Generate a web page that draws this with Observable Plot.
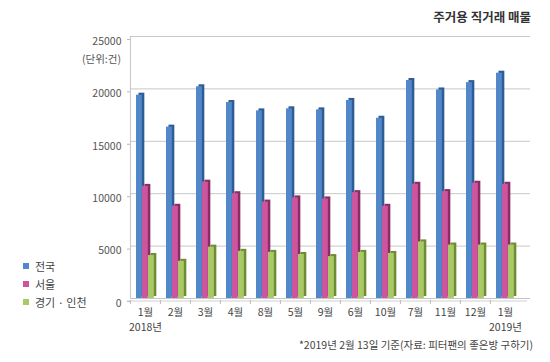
<!DOCTYPE html>
<html>
<head>
<meta charset="utf-8">
<script src="https://cdn.jsdelivr.net/npm/d3@7"></script>
<script src="https://cdn.jsdelivr.net/npm/@observablehq/plot@0.6"></script>
<style>
  body { margin: 0; background: #fff; font-family: "Noto Sans CJK KR", "Noto Sans", sans-serif; }
  #wrap { position: relative; width: 550px; height: 362px; overflow: hidden; }
  #title { position: absolute; right: 19px; top: 7px; font-size: 12.5px; font-weight: 600; color: #333; white-space: nowrap; }
  #unit { position: absolute; right: 429px; top: 51px; font-size: 10.5px; color: #555; white-space: nowrap; }
  #note { position: absolute; right: 17px; top: 337px; font-size: 10.5px; color: #444; white-space: nowrap; }
  #legend { position: absolute; left: 23px; top: 257px; font-size: 11px; color: #444; }
  #legend .row { display: flex; align-items: center; height: 18px; }
  #legend .sw { width: 6px; height: 6px; margin-right: 6px; }
  #chart { position: absolute; left: 0; top: 0; }
</style>
</head>
<body>
<div id="wrap">
  <div id="chart"></div>
  <div id="title"></div>
  <div id="unit"></div>
  <div id="legend"></div>
  <div id="note"></div>
</div>
<script>
// ---- data ----
const titleText = "주거용 직거래 매물";
const unitText = "(단위:건)";
const noteText = "*2019년 2월 13일 기준(자료: 피터팬의 좋은방 구하기)";
const months = ["1월", "2월", "3월", "4월", "8월", "5월", "9월", "6월", "10월", "7월", "11월", "12월", "1월"];
const years  = ["2018년", "", "", "", "", "", "", "", "", "", "", "", "2019년"];
const seriesNames = ["전국", "서울", "경기 · 인천"];
const national = [19400, 16350, 20200, 18700, 17900, 18100, 18000, 18900, 17200, 20800, 19900, 20600, 21500];
const seoul    = [10700,  8800, 11100, 10000,  9200,  9600,  9500, 10100,  8800, 10900, 10200, 11000, 10900];
const gyeonggi = [ 4100,  3550,  4900,  4500,  4400,  4200,  4000,  4400,  4300,  5400,  5100,  5100,  5100];
const yTicks = [0, 5000, 10000, 15000, 20000, 25000];

// ---- styles ----
const colors = ["#5288c9", "#cc559e", "#a8c965"];
const darks  = ["#2f5c94", "#8a2d66", "#6e8c33"];

const W = 550, H = 362, ML = 130, MR = 20, MT = 36, MB = 64;
const n = months.length;
const pOuter = 0.13;
const bw = (W - ML - MR) / (n + 2 * pOuter);
const barW = 6, lead = 6;

const valuesBySeries = [national, seoul, gyeonggi];
const rows = [];
valuesBySeries.forEach((vals, j) => vals.forEach((v, i) => rows.push({ i, j, s: seriesNames[j], v })));

const marks = [
  Plot.ruleY(yTicks.slice(1), { stroke: "#c8c8c8" }),
  Plot.ruleY([0], { stroke: "#c4c4c4" }),
  Plot.ruleY([0], { stroke: "#cfcfcf", dy: 2.5, dx: -3 }),
  Plot.ruleX([0], { x: d => d, y1: 0, y2: 25000, dx: -bw / 2, stroke: "#c4c4c4" }),
];
valuesBySeries.forEach((_, j) => {
  const data = rows.filter(r => r.j === j);
  const inL = lead + barW * j;
  const inR = bw - lead - barW * (j + 1);
  marks.push(Plot.barY(data, { x: "i", y: "v", fill: darks[j], insetLeft: inL, insetRight: inR, dx: 2.5, dy: -2 }));
  marks.push(Plot.barY(data, { x: "i", y: "v", fill: colors[j], insetLeft: inL, insetRight: inR }));
});
marks.push(
  Plot.axisY({ ticks: yTicks, tickSize: 0, tickPadding: 9, dy: 5, tickFormat: d => String(d), fill: "#555", fontSize: 10.5, label: null }),
  Plot.axisY({ ticks: yTicks, tickSize: 3, tickFormat: () => "", stroke: "#bbb", dy: 3, label: null }),
  Plot.axisX({ tickSize: 0, tickPadding: 7, tickFormat: i => months[i] + (years[i] ? "\n" + years[i] : ""), lineHeight: 1.4, fill: "#444", fontSize: 10.5, label: null }),
  Plot.axisX({ tickSize: 4, tickFormat: () => "", dx: -bw / 2, dy: 2, stroke: "#bbb", label: null })
);

const chart = Plot.plot({
  width: W, height: H,
  marginLeft: ML, marginRight: MR, marginTop: MT, marginBottom: MB,
  x: { type: "band", domain: d3.range(n), paddingInner: 0, paddingOuter: pOuter, align: 0, label: null },
  y: { domain: [0, 25000], label: null },
  style: { fontFamily: '"Noto Sans CJK KR", "Noto Sans", sans-serif', fontSize: "10.5px", background: "transparent" },
  marks
});
document.getElementById("chart").appendChild(chart);

document.getElementById("title").textContent = titleText;
document.getElementById("unit").textContent = unitText;
document.getElementById("note").textContent = noteText;
const lg = document.getElementById("legend");
seriesNames.forEach((name, j) => {
  const row = document.createElement("div");
  row.className = "row";
  const sw = document.createElement("span");
  sw.className = "sw";
  sw.style.background = colors[j];
  const t = document.createElement("span");
  t.textContent = name;
  row.appendChild(sw); row.appendChild(t);
  lg.appendChild(row);
});
</script>
</body>
</html>
